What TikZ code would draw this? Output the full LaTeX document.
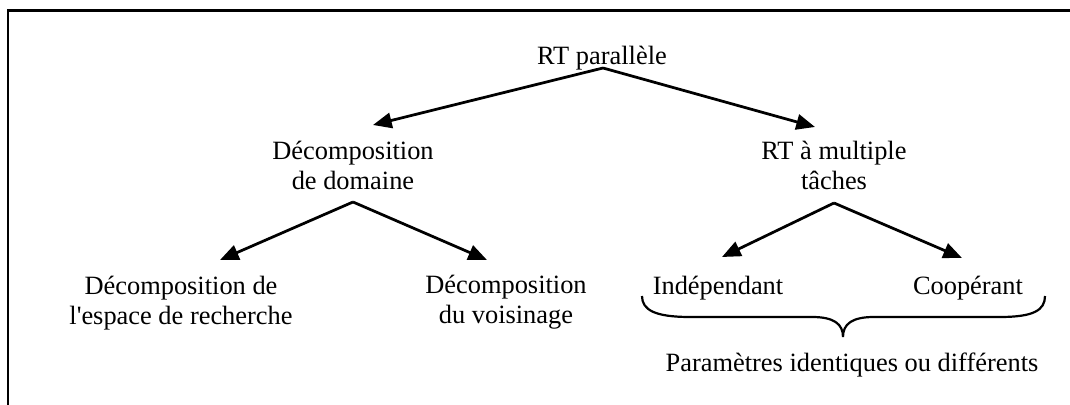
\documentclass[tikz,border=0pt]{standalone}
\usepackage{fontspec}
\setmainfont{Liberation Serif}
\usetikzlibrary{arrows.meta}
\begin{document}
\begin{tikzpicture}[x=0.4545pt,y=-0.4545pt,
  lbl/.style={font=\fontsize{12}{13.8}\selectfont, align=center, inner sep=0pt, anchor=base},
  link/.style={line width=1.25pt, -{Triangle[length=8.5pt,width=7pt]}},
  frame/.style={line width=1.1pt},
  brace/.style={line width=1pt}]
\useasboundingbox (0,0) rectangle (1070,405);
% open frame: top and left sides only
\draw[frame] (8,405) -- (8,10.5) -- (1070,10.5);

% labels (base anchor = baseline of the last line)
\node[lbl] (root)  at (602,65)  {RT parallèle};
\node[lbl] (dom)   at (353,190) {Décomposition\\de domaine};
\node[lbl] (multi) at (834,190) {RT à multiple\\tâches};
\node[lbl] (esp)   at (181,325) {Décomposition de\\l\textquotesingle espace de recherche};
\node[lbl] (vois)  at (506,324) {Décomposition\\du voisinage};
\node[lbl] (ind)   at (718,295) {Indépendant};
\node[lbl] (coop)  at (968,295) {Coopérant};
\node[lbl] (param) at (852,372) {Paramètres identiques ou différents};

% connector ends
\coordinate (root-out)  at (603,68);
\coordinate (dom-in)    at (373,125);
\coordinate (multi-in)  at (815,127);
\coordinate (dom-out)   at (353,202);
\coordinate (esp-in)    at (220,260);
\coordinate (vois-in)   at (487,260);
\coordinate (multi-out) at (834,203);
\coordinate (ind-in)    at (722,257);
\coordinate (coop-in)   at (962,258);

\draw[link] (root-out) -- (dom-in);
\draw[link] (root-out) -- (multi-in);
\draw[link] (dom-out) -- (esp-in);
\draw[link] (dom-out) -- (vois-in);
\draw[link] (multi-out) -- (ind-in);
\draw[link] (multi-out) -- (coop-in);

% brace under the two kinds of multi-task search
\coordinate (br-l) at (642,296);
\coordinate (br-tip) at (843,337);
\coordinate (br-r) at (1045,296);
\draw[brace] (br-l) .. controls (642,310) and (655,317) .. (690,317)
  -- (812,317) .. controls (834,317) and (843,324) .. (br-tip)
  .. controls (843,324) and (852,317) .. (874,317)
  -- (1000,317) .. controls (1034,317) and (1045,310) .. (br-r);
\end{tikzpicture}
\end{document}
